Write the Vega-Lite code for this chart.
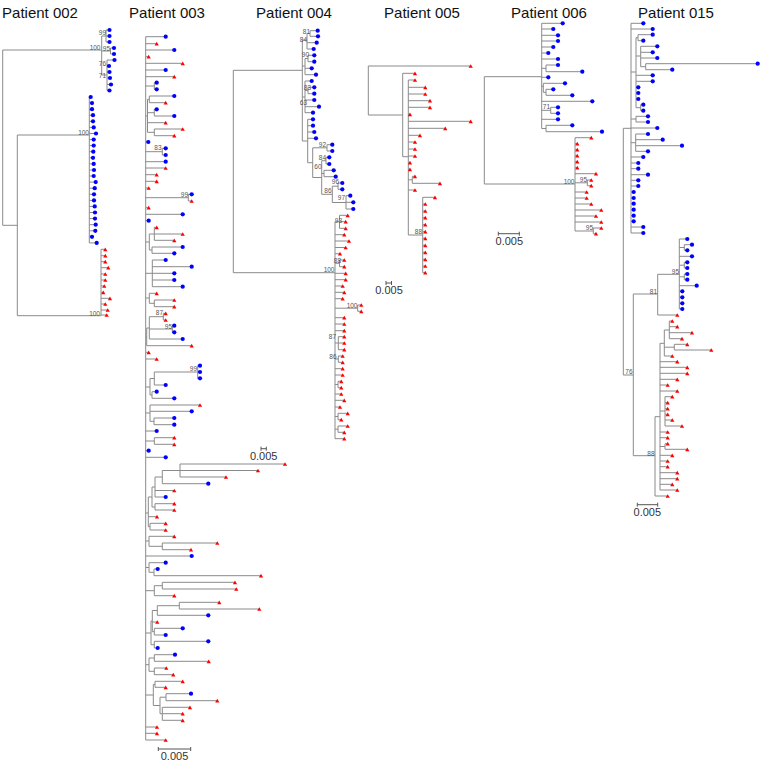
{
"$schema":"https://vega.github.io/schema/vega-lite/v6.json",
"width":764,"height":765,
"autosize":{"type":"fit","contains":"padding"},
"padding":0,
"config":{"view":{"stroke":null}},
"datasets":{
"v":[
{"x":2.7,"y":50,"y2":225.3},{"x":101.7,"y":36,"y2":75},{"x":106,"y":30,"y2":42},{"x":110.5,"y":48,"y2":54},{"x":107,"y":60,"y2":90.5},{"x":17.3,"y":135,"y2":315.7},{"x":89.3,"y":97,"y2":243},{"x":101,"y":249.3,"y2":315.7},
{"x":145.7,"y":36.7,"y2":740},{"x":154.3,"y":82.7,"y2":89.3},{"x":147.5,"y":99.3,"y2":132.3},{"x":149.3,"y":96,"y2":102.7},{"x":154.3,"y":109.3,"y2":116},{"x":154.3,"y":129,"y2":135.7},{"x":162.3,"y":148.3,"y2":155},{"x":188.3,"y":194.3,"y2":201},{"x":149.3,"y":234,"y2":250},{"x":154.3,"y":227.3,"y2":240.3},{"x":152,"y":247,"y2":253.3},{"x":152.3,"y":260,"y2":286.7},{"x":149.3,"y":293.3,"y2":303.3},{"x":154.3,"y":300,"y2":306.7},{"x":146.7,"y":328,"y2":345.7},{"x":149.3,"y":316.7,"y2":339},{"x":163.3,"y":313.3,"y2":320},{"x":172.3,"y":325.7,"y2":332.3},{"x":150,"y":378.5,"y2":395},{"x":154.3,"y":372,"y2":385},{"x":197.7,"y":365.7,"y2":378.3},{"x":152,"y":391.7,"y2":398.3},{"x":150,"y":405,"y2":421.3},{"x":154,"y":418,"y2":424.7},{"x":154.3,"y":437.7,"y2":444.3},{"x":148.3,"y":497,"y2":526.7},{"x":152,"y":487,"y2":507},{"x":155,"y":477,"y2":497},{"x":162.3,"y":470.5,"y2":483.7},{"x":180,"y":464,"y2":477},{"x":155,"y":503.7,"y2":510},{"x":150,"y":523.3,"y2":530},{"x":149,"y":536.3,"y2":546.3},{"x":162.3,"y":543,"y2":549.7},{"x":149,"y":562.7,"y2":572.3},{"x":154,"y":569,"y2":575.7},{"x":154.3,"y":585.7,"y2":595.7},{"x":162.3,"y":582.3,"y2":589},{"x":151,"y":621,"y2":644.7},{"x":152.3,"y":610.5,"y2":631.7},{"x":157.3,"y":605.7,"y2":615.3},{"x":179.3,"y":602.3,"y2":609},{"x":154.3,"y":628.3,"y2":635},{"x":154.3,"y":641.3,"y2":648},{"x":149,"y":658,"y2":671.3},{"x":154.3,"y":654.7,"y2":661.3},{"x":154.3,"y":668,"y2":674.7},{"x":153.3,"y":684.3,"y2":705.5},{"x":155,"y":681.3,"y2":687.3},{"x":160,"y":697.2,"y2":713.7},{"x":166,"y":693.7,"y2":700.7},{"x":162.3,"y":707.3,"y2":720.3},
{"x":233.3,"y":70.3,"y2":272.7},{"x":302.3,"y":40,"y2":141},{"x":307,"y":33.5,"y2":49},{"x":310,"y":30.7,"y2":36.3},{"x":305,"y":58.5,"y2":74.7},{"x":308,"y":55.3,"y2":61.7},{"x":305,"y":81,"y2":112.7},{"x":308,"y":87.3,"y2":93.7},{"x":307.7,"y":119.3,"y2":162.7},{"x":312.7,"y":147.8,"y2":177.5},{"x":327,"y":144.7,"y2":151},{"x":321.7,"y":160.7,"y2":194.3},{"x":326,"y":157.3,"y2":164},{"x":324,"y":170.3,"y2":176.7},{"x":332.3,"y":186.2,"y2":202.5},{"x":338,"y":183,"y2":189.3},{"x":346,"y":195.7,"y2":209},{"x":335,"y":221.7,"y2":438.7},{"x":339.5,"y":215.3,"y2":228.3},{"x":339.5,"y":260,"y2":266.7},{"x":357.7,"y":305,"y2":311.3},{"x":338.3,"y":336.7,"y2":349.7},{"x":338.3,"y":356,"y2":362.3},{"x":338,"y":381.3,"y2":387.7},{"x":338,"y":413.3,"y2":419.7},{"x":338,"y":426,"y2":432.3},
{"x":368.3,"y":66,"y2":115},{"x":402.7,"y":73.3,"y2":156.7},{"x":408.3,"y":80,"y2":235},{"x":412.3,"y":176.3,"y2":183.3},{"x":422.7,"y":197.3,"y2":272.7},
{"x":484.3,"y":76.7,"y2":184},{"x":541.7,"y":23.3,"y2":128.5},{"x":546,"y":65,"y2":71.7},{"x":543.3,"y":83.3,"y2":92.3},{"x":546,"y":89.3,"y2":95.3},{"x":550.7,"y":107.3,"y2":113.3},{"x":546,"y":125.3,"y2":131.7},{"x":575,"y":137.7,"y2":231},{"x":587.3,"y":180,"y2":185.7},{"x":593.3,"y":228,"y2":233.7},
{"x":623.3,"y":128.3,"y2":375},{"x":631,"y":23.3,"y2":233},{"x":636,"y":37.7,"y2":107.7},{"x":638,"y":34.7,"y2":40.7},{"x":640.7,"y":46.3,"y2":66.7},{"x":645.7,"y":63.7,"y2":69.7},{"x":640.7,"y":104.7,"y2":110.7},{"x":636,"y":116.3,"y2":122},{"x":635.7,"y":134,"y2":151.3},{"x":633.3,"y":294,"y2":455.7},{"x":657.7,"y":274.3,"y2":315},{"x":679.3,"y":239,"y2":309},{"x":684.3,"y":244.7,"y2":250.3},{"x":684.3,"y":262.3,"y2":268},{"x":684.3,"y":274,"y2":279.7},{"x":655,"y":416.7,"y2":496},{"x":660,"y":343.3,"y2":490},{"x":664.3,"y":330,"y2":356},{"x":669.3,"y":321,"y2":338.7},{"x":674.3,"y":344.3,"y2":350},{"x":665,"y":396.7,"y2":426},{"x":665,"y":443.7,"y2":449.3}
],
"h":[
{"x":2.7,"x2":101.7,"y":50},{"x":2.7,"x2":17.3,"y":225.3},{"x":101.7,"x2":106,"y":36},{"x":106,"x2":109.5,"y":30,"s":"b"},{"x":106,"x2":109.5,"y":36,"s":"b"},{"x":106,"x2":109.5,"y":42,"s":"b"},{"x":101.7,"x2":110.5,"y":51},{"x":110.5,"x2":114,"y":48,"s":"b"},{"x":110.5,"x2":114,"y":54,"s":"b"},{"x":101.7,"x2":107,"y":75},{"x":107,"x2":114.5,"y":60,"s":"b"},{"x":107,"x2":109,"y":66,"s":"b"},{"x":107,"x2":109.5,"y":72,"s":"b"},{"x":107,"x2":110,"y":78,"s":"b"},{"x":107,"x2":111,"y":84.5,"s":"b"},{"x":107,"x2":109.5,"y":90.5,"s":"b"},{"x":17.3,"x2":89.3,"y":135},{"x":17.3,"x2":101,"y":315.7},
{"x":89.3,"x2":90.7,"y":97,"s":"b"},{"x":89.3,"x2":92,"y":103.1,"s":"b"},{"x":89.3,"x2":92,"y":109.2,"s":"b"},{"x":89.3,"x2":93,"y":115.2,"s":"b"},{"x":89.3,"x2":93,"y":121.3,"s":"b"},{"x":89.3,"x2":93.7,"y":127.4,"s":"b"},{"x":89.3,"x2":96,"y":133.5,"s":"b"},{"x":89.3,"x2":93.7,"y":139.6,"s":"b"},{"x":89.3,"x2":93.7,"y":145.6,"s":"b"},{"x":89.3,"x2":93.3,"y":151.7,"s":"b"},{"x":89.3,"x2":93,"y":157.8,"s":"b"},{"x":89.3,"x2":93.7,"y":163.9,"s":"b"},{"x":89.3,"x2":94,"y":170,"s":"b"},{"x":89.3,"x2":93.7,"y":176,"s":"b"},{"x":89.3,"x2":95.7,"y":182.1,"s":"b"},{"x":89.3,"x2":94.7,"y":188.2,"s":"b"},{"x":89.3,"x2":94,"y":194.3,"s":"b"},{"x":89.3,"x2":94,"y":200.4,"s":"b"},{"x":89.3,"x2":94.7,"y":206.4,"s":"b"},{"x":89.3,"x2":95,"y":212.5,"s":"b"},{"x":89.3,"x2":95,"y":218.6,"s":"b"},{"x":89.3,"x2":95.7,"y":224.7,"s":"b"},{"x":89.3,"x2":95.3,"y":230.8,"s":"b"},{"x":89.3,"x2":92,"y":236.8,"s":"b"},{"x":89.3,"x2":96.7,"y":242.9,"s":"b"},
{"x":101,"x2":105.3,"y":249.3,"s":"r"},{"x":101,"x2":105.3,"y":255.7,"s":"r"},{"x":101,"x2":105.3,"y":261.7,"s":"r"},{"x":101,"x2":108.3,"y":267.7,"s":"r"},{"x":101,"x2":105.3,"y":274,"s":"r"},{"x":101,"x2":105.3,"y":280,"s":"r"},{"x":101,"x2":104.3,"y":286,"s":"r"},{"x":101,"x2":103.3,"y":292.3,"s":"r"},{"x":101,"x2":110,"y":298.3,"s":"r"},{"x":101,"x2":105.3,"y":304,"s":"r"},{"x":101,"x2":107.7,"y":310,"s":"r"},{"x":101,"x2":106.7,"y":315,"s":"r"},
{"x":145.7,"x2":165.7,"y":36.7,"s":"b"},{"x":145.7,"x2":156.7,"y":43.7,"s":"r"},{"x":145.7,"x2":174.3,"y":50,"s":"b"},{"x":145.7,"x2":148.7,"y":56.7,"s":"r"},{"x":145.7,"x2":182.7,"y":63.3,"s":"r"},{"x":145.7,"x2":165.7,"y":70,"s":"b"},{"x":145.7,"x2":174.3,"y":76.7,"s":"r"},{"x":145.7,"x2":148.3,"y":142,"s":"b"},{"x":145.7,"x2":165.7,"y":161.7,"s":"b"},{"x":145.7,"x2":165.7,"y":168,"s":"r"},{"x":145.7,"x2":156.7,"y":174.7,"s":"r"},{"x":145.7,"x2":156.7,"y":181.3,"s":"r"},{"x":145.7,"x2":148.7,"y":188,"s":"r"},{"x":145.7,"x2":148.7,"y":207.7,"s":"r"},{"x":145.7,"x2":182.7,"y":214.3,"s":"b"},{"x":145.7,"x2":148.7,"y":220.7,"s":"b"},{"x":145.7,"x2":148.7,"y":352.3,"s":"r"},{"x":145.7,"x2":156.7,"y":359,"s":"r"},{"x":145.7,"x2":156.7,"y":431,"s":"b"},{"x":145.7,"x2":148.7,"y":450.7,"s":"b"},{"x":145.7,"x2":165.7,"y":457.3,"s":"b"},{"x":145.7,"x2":191.7,"y":556,"s":"b"},{"x":145.7,"x2":157,"y":727,"s":"r"},{"x":145.7,"x2":157,"y":733.3,"s":"r"},{"x":145.7,"x2":165.7,"y":740,"s":"r"},
{"x":145.7,"x2":154.3,"y":86},{"x":154.3,"x2":156.7,"y":82.7,"s":"b"},{"x":154.3,"x2":156.7,"y":89.3,"s":"b"},
{"x":145.7,"x2":147.5,"y":116},{"x":147.5,"x2":149.3,"y":99.3},{"x":149.3,"x2":174.3,"y":96,"s":"b"},{"x":149.3,"x2":165.7,"y":102.7,"s":"r"},{"x":147.5,"x2":154.3,"y":112.7},{"x":154.3,"x2":156.7,"y":109.3,"s":"b"},{"x":154.3,"x2":174.3,"y":116,"s":"b"},{"x":147.5,"x2":165.7,"y":122.7,"s":"r"},{"x":147.5,"x2":154.3,"y":132.3},{"x":154.3,"x2":182.7,"y":129,"s":"r"},{"x":154.3,"x2":174.3,"y":135.7,"s":"r"},
{"x":145.7,"x2":162.3,"y":151.7},{"x":162.3,"x2":165.7,"y":148.3,"s":"b"},{"x":162.3,"x2":165.7,"y":155,"s":"b"},
{"x":145.7,"x2":188.3,"y":197.7},{"x":188.3,"x2":191.7,"y":194.3,"s":"b"},{"x":188.3,"x2":191.7,"y":201,"s":"r"},
{"x":145.7,"x2":149.3,"y":242},{"x":149.3,"x2":154.3,"y":234},{"x":154.3,"x2":156.7,"y":227.3,"s":"r"},{"x":154.3,"x2":182.7,"y":234,"s":"r"},{"x":154.3,"x2":174.3,"y":240.3,"s":"r"},{"x":149.3,"x2":152,"y":250},{"x":152,"x2":182.7,"y":247,"s":"b"},{"x":152,"x2":174.3,"y":253.3,"s":"b"},
{"x":145.7,"x2":152.3,"y":273.3},{"x":152.3,"x2":165.7,"y":260,"s":"b"},{"x":152.3,"x2":191.7,"y":266.7,"s":"b"},{"x":152.3,"x2":174.3,"y":273.3,"s":"b"},{"x":152.3,"x2":174.3,"y":280,"s":"b"},{"x":152.3,"x2":182.7,"y":286.7,"s":"b"},
{"x":145.7,"x2":149.3,"y":298},{"x":149.3,"x2":156.7,"y":293.3,"s":"r"},{"x":149.3,"x2":154.3,"y":303.3},{"x":154.3,"x2":174.3,"y":300,"s":"r"},{"x":154.3,"x2":174.3,"y":306.7,"s":"r"},
{"x":145.7,"x2":146.7,"y":337},{"x":146.7,"x2":191.7,"y":345.7,"s":"r"},{"x":146.7,"x2":149.3,"y":328},{"x":149.3,"x2":163.3,"y":316.7},{"x":163.3,"x2":165.7,"y":313.3,"s":"r"},{"x":163.3,"x2":165.7,"y":320,"s":"r"},{"x":149.3,"x2":172.3,"y":329},{"x":172.3,"x2":174.3,"y":325.7,"s":"b"},{"x":172.3,"x2":174.3,"y":332.3,"s":"b"},{"x":149.3,"x2":182.7,"y":339,"s":"b"},
{"x":145.7,"x2":150,"y":387},{"x":150,"x2":154.3,"y":378.5},{"x":154.3,"x2":197.7,"y":372},{"x":197.7,"x2":200,"y":365.7,"s":"b"},{"x":197.7,"x2":200,"y":372,"s":"b"},{"x":197.7,"x2":200,"y":378.3,"s":"b"},{"x":154.3,"x2":165.7,"y":385,"s":"b"},{"x":150,"x2":152,"y":395},{"x":152,"x2":156.7,"y":391.7,"s":"b"},{"x":152,"x2":174.3,"y":398.3,"s":"b"},
{"x":145.7,"x2":150,"y":413},{"x":150,"x2":200,"y":405,"s":"r"},{"x":150,"x2":191.7,"y":411.3,"s":"b"},{"x":150,"x2":154,"y":421.3},{"x":154,"x2":174.3,"y":418,"s":"b"},{"x":154,"x2":174.3,"y":424.7,"s":"b"},
{"x":145.7,"x2":154.3,"y":441},{"x":154.3,"x2":174.3,"y":437.7,"s":"r"},{"x":154.3,"x2":174.3,"y":444.3,"s":"r"},
{"x":145.7,"x2":148.3,"y":513},{"x":148.3,"x2":152,"y":497},{"x":152,"x2":155,"y":487},{"x":155,"x2":162.3,"y":477},{"x":162.3,"x2":180,"y":470.5},{"x":180,"x2":285,"y":464,"s":"r"},{"x":180,"x2":258,"y":470.5,"s":"r"},{"x":180,"x2":226,"y":477,"s":"r"},{"x":162.3,"x2":208.3,"y":483.7,"s":"b"},{"x":155,"x2":174.3,"y":490.5,"s":"r"},{"x":155,"x2":165.7,"y":497,"s":"b"},{"x":152,"x2":155,"y":507},{"x":155,"x2":174.3,"y":503.7,"s":"r"},{"x":155,"x2":174.3,"y":510,"s":"r"},{"x":148.3,"x2":157,"y":516.7,"s":"r"},{"x":148.3,"x2":150,"y":526.7},{"x":150,"x2":165.7,"y":523.3,"s":"r"},{"x":150,"x2":165.7,"y":530,"s":"r"},
{"x":145.7,"x2":149,"y":541},{"x":149,"x2":174.3,"y":536.3,"s":"r"},{"x":149,"x2":162.3,"y":546.3},{"x":162.3,"x2":217.3,"y":543,"s":"r"},{"x":162.3,"x2":191,"y":549.7,"s":"r"},
{"x":145.7,"x2":149,"y":567.5},{"x":149,"x2":165.7,"y":562.7,"s":"b"},{"x":149,"x2":154,"y":572.3},{"x":154,"x2":157.7,"y":569,"s":"b"},{"x":154,"x2":261,"y":575.7,"s":"r"},
{"x":145.7,"x2":154.3,"y":590.7},{"x":154.3,"x2":162.3,"y":585.7},{"x":162.3,"x2":235,"y":582.3,"s":"r"},{"x":162.3,"x2":236.3,"y":589,"s":"r"},{"x":154.3,"x2":174.3,"y":595.7,"s":"r"},
{"x":145.7,"x2":151,"y":633},{"x":151,"x2":152.3,"y":621},{"x":152.3,"x2":157.3,"y":610.5},{"x":157.3,"x2":179.3,"y":605.7},{"x":179.3,"x2":219.3,"y":602.3,"s":"r"},{"x":179.3,"x2":259.3,"y":609,"s":"r"},{"x":157.3,"x2":208.3,"y":615.3,"s":"b"},{"x":152.3,"x2":157.3,"y":622,"s":"r"},{"x":152.3,"x2":154.3,"y":631.7},{"x":154.3,"x2":182.7,"y":628.3,"s":"b"},{"x":154.3,"x2":165.7,"y":635,"s":"b"},{"x":151,"x2":154.3,"y":644.7},{"x":154.3,"x2":208.3,"y":641.3,"s":"b"},{"x":154.3,"x2":157.7,"y":648,"s":"b"},
{"x":145.7,"x2":149,"y":664.7},{"x":149,"x2":154.3,"y":658},{"x":154.3,"x2":175,"y":654.7,"s":"b"},{"x":154.3,"x2":208.7,"y":661.3,"s":"r"},{"x":149,"x2":154.3,"y":671.3},{"x":154.3,"x2":166.3,"y":668,"s":"r"},{"x":154.3,"x2":173.3,"y":674.7,"s":"r"},
{"x":145.7,"x2":153.3,"y":695},{"x":153.3,"x2":155,"y":684.3},{"x":155,"x2":182.7,"y":681.3,"s":"r"},{"x":155,"x2":165.7,"y":687.3,"s":"r"},{"x":153.3,"x2":160,"y":705.5},{"x":160,"x2":166,"y":697.2},{"x":166,"x2":191,"y":693.7,"s":"b"},{"x":166,"x2":217.3,"y":700.7,"s":"r"},{"x":160,"x2":162.3,"y":713.7},{"x":162.3,"x2":190,"y":707.3,"s":"r"},{"x":162.3,"x2":182.7,"y":713.7,"s":"r"},{"x":162.3,"x2":182.7,"y":720.3,"s":"r"},
{"x":233.3,"x2":302.3,"y":70.3},{"x":233.3,"x2":335,"y":272.7},
{"x":302.3,"x2":307,"y":40},{"x":307,"x2":310,"y":33.5},{"x":310,"x2":317.7,"y":30.7,"s":"b"},{"x":310,"x2":318,"y":36.3,"s":"b"},{"x":307,"x2":316.7,"y":42.7,"s":"b"},{"x":307,"x2":313.7,"y":49,"s":"b"},
{"x":302.3,"x2":305,"y":66},{"x":305,"x2":308,"y":58.5},{"x":308,"x2":314.3,"y":55.3,"s":"b"},{"x":308,"x2":314.3,"y":61.7,"s":"b"},{"x":305,"x2":311.7,"y":68.3,"s":"b"},{"x":305,"x2":316,"y":74.7,"s":"b"},
{"x":302.3,"x2":305,"y":97},{"x":305,"x2":311.7,"y":81,"s":"b"},{"x":305,"x2":308,"y":90.5},{"x":308,"x2":314.3,"y":87.3,"s":"b"},{"x":308,"x2":314.3,"y":93.7,"s":"b"},{"x":305,"x2":314.3,"y":100,"s":"b"},{"x":305,"x2":319,"y":106.7,"s":"b"},{"x":305,"x2":313,"y":112.7,"s":"b"},
{"x":302.3,"x2":307.7,"y":141},{"x":307.7,"x2":313,"y":119.3,"s":"b"},{"x":307.7,"x2":313,"y":125.7,"s":"b"},{"x":307.7,"x2":314.3,"y":132,"s":"b"},{"x":307.7,"x2":316,"y":138.3,"s":"b"},
{"x":307.7,"x2":312.7,"y":162.7},{"x":312.7,"x2":327,"y":147.8},{"x":327,"x2":332.3,"y":144.7,"s":"b"},{"x":327,"x2":332.3,"y":151,"s":"b"},
{"x":312.7,"x2":321.7,"y":177.5},{"x":321.7,"x2":326,"y":160.7},{"x":326,"x2":329.3,"y":157.3,"s":"b"},{"x":326,"x2":329.3,"y":164,"s":"b"},{"x":321.7,"x2":324,"y":173.5},{"x":324,"x2":333.7,"y":170.3,"s":"b"},{"x":324,"x2":335.7,"y":176.7,"s":"b"},
{"x":321.7,"x2":332.3,"y":194.3},{"x":332.3,"x2":338,"y":186.2},{"x":338,"x2":342.3,"y":183,"s":"b"},{"x":338,"x2":342.3,"y":189.3,"s":"b"},{"x":332.3,"x2":346,"y":202.5},{"x":346,"x2":350.3,"y":195.7,"s":"b"},{"x":346,"x2":353.3,"y":202.3,"s":"b"},{"x":346,"x2":353.3,"y":209,"s":"b"},
{"x":335,"x2":339.5,"y":221.7},{"x":339.5,"x2":347.7,"y":215.3,"s":"r"},{"x":339.5,"x2":345.7,"y":221.7,"s":"r"},{"x":339.5,"x2":345.7,"y":228.3,"s":"r"},
{"x":335,"x2":344.3,"y":234.7,"s":"r"},{"x":335,"x2":349,"y":241,"s":"r"},{"x":335,"x2":345.7,"y":247.5,"s":"r"},{"x":335,"x2":340,"y":253.7,"s":"r"},
{"x":335,"x2":339.5,"y":263.3},{"x":339.5,"x2":344.3,"y":260,"s":"r"},{"x":339.5,"x2":344.3,"y":266.7,"s":"r"},
{"x":335,"x2":345.7,"y":273.3,"s":"r"},{"x":335,"x2":345.7,"y":279.7,"s":"r"},{"x":335,"x2":342.7,"y":286,"s":"r"},{"x":335,"x2":344.3,"y":292.3,"s":"r"},{"x":335,"x2":342.7,"y":298.7,"s":"r"},
{"x":335,"x2":357.7,"y":308.2},{"x":357.7,"x2":361.3,"y":305,"s":"r"},{"x":357.7,"x2":361.3,"y":311.3,"s":"r"},
{"x":335,"x2":344.3,"y":317.7,"s":"r"},{"x":335,"x2":344.3,"y":324,"s":"r"},{"x":335,"x2":344.3,"y":330.7,"s":"r"},
{"x":335,"x2":338.3,"y":343},{"x":338.3,"x2":344.3,"y":336.7,"s":"r"},{"x":338.3,"x2":344.3,"y":343,"s":"r"},{"x":338.3,"x2":344.3,"y":349.7,"s":"r"},
{"x":335,"x2":338.3,"y":359},{"x":338.3,"x2":342.7,"y":356,"s":"r"},{"x":338.3,"x2":342.7,"y":362.3,"s":"r"},
{"x":335,"x2":342.7,"y":368.7,"s":"r"},{"x":335,"x2":342.7,"y":375,"s":"r"},
{"x":335,"x2":338,"y":384.5},{"x":338,"x2":341.3,"y":381.3,"s":"r"},{"x":338,"x2":341.3,"y":387.7,"s":"r"},
{"x":335,"x2":341.3,"y":394,"s":"r"},{"x":335,"x2":344.3,"y":400.3,"s":"r"},{"x":335,"x2":340,"y":407,"s":"r"},
{"x":335,"x2":338,"y":416.5},{"x":338,"x2":347.7,"y":413.3,"s":"r"},{"x":338,"x2":341.3,"y":419.7,"s":"r"},
{"x":335,"x2":338,"y":429.2},{"x":338,"x2":347.7,"y":426,"s":"r"},{"x":338,"x2":344.3,"y":432.3,"s":"r"},
{"x":335,"x2":344.3,"y":438.7,"s":"r"},
{"x":368.3,"x2":470.7,"y":66,"s":"r"},{"x":368.3,"x2":402.7,"y":115},{"x":402.7,"x2":415,"y":73.3,"s":"r"},{"x":402.7,"x2":408.3,"y":156.7},
{"x":408.3,"x2":415,"y":80,"s":"r"},{"x":408.3,"x2":425.3,"y":87.3,"s":"r"},{"x":408.3,"x2":425.3,"y":94,"s":"r"},{"x":408.3,"x2":430,"y":100.7,"s":"r"},{"x":408.3,"x2":430,"y":107.3,"s":"r"},{"x":408.3,"x2":410,"y":114.3,"s":"r"},{"x":408.3,"x2":470.7,"y":121.3,"s":"r"},{"x":408.3,"x2":445.3,"y":128.3,"s":"r"},{"x":408.3,"x2":420,"y":135.3,"s":"r"},{"x":408.3,"x2":415,"y":142,"s":"r"},{"x":408.3,"x2":415,"y":149,"s":"r"},{"x":408.3,"x2":415,"y":156,"s":"r"},{"x":408.3,"x2":410,"y":162.7,"s":"r"},{"x":408.3,"x2":410,"y":169.3,"s":"r"},{"x":408.3,"x2":415,"y":190,"s":"r"},
{"x":408.3,"x2":412.3,"y":179.8},{"x":412.3,"x2":415,"y":176.3,"s":"r"},{"x":412.3,"x2":440,"y":183.3,"s":"r"},
{"x":408.3,"x2":422.7,"y":235},{"x":422.7,"x2":435,"y":197.3,"s":"r"},{"x":422.7,"x2":425.3,"y":204,"s":"r"},{"x":422.7,"x2":425.3,"y":211,"s":"r"},{"x":422.7,"x2":425.3,"y":217.7,"s":"r"},{"x":422.7,"x2":425.3,"y":224.7,"s":"r"},{"x":422.7,"x2":425.3,"y":231.7,"s":"r"},{"x":422.7,"x2":425.3,"y":238.3,"s":"r"},{"x":422.7,"x2":425.3,"y":245.3,"s":"r"},{"x":422.7,"x2":425.3,"y":252.3,"s":"r"},{"x":422.7,"x2":425.3,"y":259.3,"s":"r"},{"x":422.7,"x2":425.3,"y":266,"s":"r"},{"x":422.7,"x2":425.3,"y":272.7,"s":"r"},
{"x":484.3,"x2":541.7,"y":76.7},{"x":484.3,"x2":575,"y":184},
{"x":541.7,"x2":562.7,"y":23.3,"s":"b"},{"x":541.7,"x2":553.3,"y":29,"s":"b"},{"x":541.7,"x2":558,"y":35.3,"s":"b"},{"x":541.7,"x2":558,"y":41,"s":"b"},{"x":541.7,"x2":553.3,"y":47,"s":"b"},{"x":541.7,"x2":548.3,"y":53,"s":"b"},{"x":541.7,"x2":558,"y":59,"s":"b"},{"x":541.7,"x2":548.3,"y":77.3,"s":"b"},{"x":541.7,"x2":592.3,"y":101.3,"s":"b"},{"x":541.7,"x2":558,"y":119.3,"s":"b"},
{"x":541.7,"x2":546,"y":68.3},{"x":546,"x2":558,"y":65,"s":"b"},{"x":546,"x2":582.3,"y":71.7,"s":"b"},
{"x":541.7,"x2":543.3,"y":86.3},{"x":543.3,"x2":565,"y":83.3,"s":"b"},{"x":543.3,"x2":546,"y":92.3},{"x":546,"x2":553.3,"y":89.3,"s":"b"},{"x":546,"x2":572.3,"y":95.3,"s":"b"},
{"x":541.7,"x2":550.7,"y":110.3},{"x":550.7,"x2":558,"y":107.3,"s":"b"},{"x":550.7,"x2":558,"y":113.3,"s":"b"},
{"x":541.7,"x2":546,"y":128.5},{"x":546,"x2":572.3,"y":125.3,"s":"b"},{"x":546,"x2":602,"y":131.7,"s":"b"},
{"x":575,"x2":591.3,"y":137.7,"s":"r"},{"x":575,"x2":577.3,"y":143.7,"s":"r"},{"x":575,"x2":577.3,"y":149.7,"s":"r"},{"x":575,"x2":577.3,"y":155.7,"s":"r"},{"x":575,"x2":577.3,"y":161.7,"s":"r"},{"x":575,"x2":577.3,"y":167.7,"s":"r"},{"x":575,"x2":596,"y":173.7,"s":"r"},{"x":575,"x2":586.7,"y":192,"s":"r"},{"x":575,"x2":586.7,"y":198,"s":"r"},{"x":575,"x2":591.3,"y":204,"s":"r"},{"x":575,"x2":601.3,"y":210,"s":"r"},{"x":575,"x2":596,"y":216,"s":"r"},{"x":575,"x2":601.3,"y":222,"s":"r"},
{"x":575,"x2":587.3,"y":182.8},{"x":587.3,"x2":591.3,"y":180,"s":"r"},{"x":587.3,"x2":591.3,"y":185.7,"s":"r"},
{"x":575,"x2":593.3,"y":231},{"x":593.3,"x2":601.3,"y":228,"s":"r"},{"x":593.3,"x2":596,"y":233.7,"s":"r"},
{"x":623.3,"x2":631,"y":128.3},{"x":623.3,"x2":633.3,"y":375},
{"x":631,"x2":643.3,"y":23.3,"s":"b"},{"x":631,"x2":652.7,"y":29,"s":"b"},{"x":631,"x2":657.3,"y":128,"s":"b"},{"x":631,"x2":643.3,"y":157,"s":"b"},{"x":631,"x2":638.3,"y":163,"s":"b"},{"x":631,"x2":638.3,"y":168.7,"s":"b"},{"x":631,"x2":648,"y":174.7,"s":"b"},{"x":631,"x2":638.3,"y":180.3,"s":"b"},{"x":631,"x2":638.3,"y":186,"s":"b"},{"x":631,"x2":633.7,"y":192,"s":"b"},{"x":631,"x2":633.7,"y":198,"s":"b"},{"x":631,"x2":633.7,"y":203.7,"s":"b"},{"x":631,"x2":633.7,"y":209.7,"s":"b"},{"x":631,"x2":633.7,"y":215.7,"s":"b"},{"x":631,"x2":633.7,"y":221.3,"s":"b"},{"x":631,"x2":643.3,"y":227,"s":"b"},{"x":631,"x2":643.3,"y":233,"s":"b"},
{"x":631,"x2":636,"y":72},{"x":636,"x2":638,"y":37.7},{"x":638,"x2":652.7,"y":34.7,"s":"b"},{"x":638,"x2":643.3,"y":40.7,"s":"b"},{"x":636,"x2":640.7,"y":56},{"x":640.7,"x2":657.3,"y":46.3,"s":"b"},{"x":640.7,"x2":652.7,"y":52.3,"s":"b"},{"x":640.7,"x2":657.3,"y":58,"s":"b"},{"x":640.7,"x2":645.7,"y":66.7},{"x":645.7,"x2":757.7,"y":63.7,"s":"b"},{"x":645.7,"x2":672.3,"y":69.7,"s":"b"},
{"x":636,"x2":652.7,"y":75.3,"s":"b"},{"x":636,"x2":652.7,"y":81.3,"s":"b"},{"x":636,"x2":638.3,"y":87.3,"s":"b"},{"x":636,"x2":638.3,"y":93,"s":"b"},{"x":636,"x2":638.3,"y":99,"s":"b"},
{"x":636,"x2":640.7,"y":107.7},{"x":640.7,"x2":643.3,"y":104.7,"s":"b"},{"x":640.7,"x2":643.3,"y":110.7,"s":"b"},
{"x":631,"x2":636,"y":119},{"x":636,"x2":648,"y":116.3,"s":"b"},{"x":636,"x2":648,"y":122,"s":"b"},
{"x":631,"x2":635.7,"y":142.7},{"x":635.7,"x2":648,"y":134,"s":"b"},{"x":635.7,"x2":662.7,"y":139.7,"s":"b"},{"x":635.7,"x2":682,"y":145.7,"s":"b"},{"x":635.7,"x2":648,"y":151.3,"s":"b"},
{"x":633.3,"x2":657.7,"y":294},{"x":657.7,"x2":679.3,"y":274.3},{"x":679.3,"x2":687.3,"y":239,"s":"b"},{"x":679.3,"x2":684.3,"y":247.5},{"x":684.3,"x2":692,"y":244.7,"s":"b"},{"x":684.3,"x2":687.3,"y":250.3,"s":"b"},{"x":679.3,"x2":692,"y":256.3,"s":"b"},{"x":679.3,"x2":684.3,"y":265.2},{"x":684.3,"x2":687.3,"y":262.3,"s":"b"},{"x":684.3,"x2":687.3,"y":268,"s":"b"},{"x":679.3,"x2":684.3,"y":276.8},{"x":684.3,"x2":687.3,"y":274,"s":"b"},{"x":684.3,"x2":687.3,"y":279.7,"s":"b"},{"x":679.3,"x2":696.7,"y":285.7,"s":"b"},{"x":679.3,"x2":682.3,"y":291.3,"s":"b"},{"x":679.3,"x2":682.3,"y":297.3,"s":"b"},{"x":679.3,"x2":682.3,"y":303.3,"s":"b"},{"x":679.3,"x2":682.3,"y":309,"s":"b"},{"x":657.7,"x2":677.3,"y":315,"s":"r"},
{"x":633.3,"x2":655,"y":455.7},{"x":655,"x2":667.7,"y":496,"s":"r"},{"x":655,"x2":660,"y":416.7},{"x":660,"x2":664.3,"y":343.3},{"x":664.3,"x2":669.3,"y":330},{"x":669.3,"x2":672.3,"y":321,"s":"r"},{"x":669.3,"x2":677.3,"y":326.7,"s":"r"},{"x":669.3,"x2":692,"y":332.7,"s":"r"},{"x":669.3,"x2":682,"y":338.7,"s":"r"},{"x":664.3,"x2":674.3,"y":347.2},{"x":674.3,"x2":687.3,"y":344.3,"s":"r"},{"x":674.3,"x2":711.3,"y":350,"s":"r"},{"x":664.3,"x2":672.3,"y":356,"s":"r"},
{"x":660,"x2":677.3,"y":361.7,"s":"r"},{"x":660,"x2":687.3,"y":367.3,"s":"r"},{"x":660,"x2":687.3,"y":373.3,"s":"r"},{"x":660,"x2":677.3,"y":379.3,"s":"r"},{"x":660,"x2":667.7,"y":385,"s":"r"},{"x":660,"x2":677.3,"y":391,"s":"r"},
{"x":660,"x2":665,"y":411},{"x":665,"x2":672.3,"y":396.7,"s":"r"},{"x":665,"x2":667.7,"y":402.7,"s":"r"},{"x":665,"x2":667.7,"y":408.7,"s":"r"},{"x":665,"x2":667.7,"y":414.3,"s":"r"},{"x":665,"x2":672.3,"y":420,"s":"r"},{"x":665,"x2":682,"y":426,"s":"r"},
{"x":660,"x2":667.7,"y":432,"s":"r"},{"x":660,"x2":667.7,"y":437.7,"s":"r"},
{"x":660,"x2":665,"y":446.5},{"x":665,"x2":667.7,"y":443.7,"s":"r"},{"x":665,"x2":687.3,"y":449.3,"s":"r"},
{"x":660,"x2":672.3,"y":455.3,"s":"r"},{"x":660,"x2":667.7,"y":461,"s":"r"},{"x":660,"x2":667.7,"y":466.7,"s":"r"},{"x":660,"x2":677.3,"y":472.7,"s":"r"},{"x":660,"x2":677.3,"y":478.7,"s":"r"},{"x":660,"x2":672.3,"y":484.3,"s":"r"},{"x":660,"x2":677.3,"y":490,"s":"r"}
],
"lab":[
{"x":100.5,"y":47.5,"t":"100"},{"x":106,"y":32.5,"t":"99"},{"x":110,"y":48.5,"t":"95"},{"x":106,"y":63.5,"t":"76"},{"x":106,"y":75.5,"t":"71"},{"x":89,"y":133,"t":"100"},{"x":100,"y":313.5,"t":"100"},
{"x":161.5,"y":148,"t":"83"},{"x":188,"y":195,"t":"99"},{"x":163,"y":312.5,"t":"87"},{"x":172,"y":326.5,"t":"95"},{"x":197,"y":369,"t":"99"},
{"x":310,"y":32,"t":"81"},{"x":307,"y":39.5,"t":"84"},{"x":309,"y":55,"t":"90"},{"x":311,"y":88,"t":"83"},{"x":307,"y":103,"t":"63"},{"x":326,"y":144.5,"t":"92"},{"x":326,"y":157.5,"t":"84"},{"x":321.5,"y":167,"t":"60"},{"x":331.5,"y":190.5,"t":"86"},{"x":339,"y":182,"t":"96"},{"x":345,"y":198,"t":"97"},{"x":342,"y":221,"t":"93"},{"x":341,"y":260.5,"t":"88"},{"x":357.5,"y":305.5,"t":"100"},{"x":336,"y":337,"t":"87"},{"x":336.5,"y":356.5,"t":"86"},{"x":334.5,"y":270,"t":"100"},
{"x":422,"y":232,"t":"88"},
{"x":550,"y":107,"t":"71"},{"x":587,"y":180,"t":"95"},{"x":593,"y":228,"t":"95"},{"x":574.5,"y":182,"t":"100"},
{"x":632.5,"y":372,"t":"76"},{"x":657,"y":291.5,"t":"81"},{"x":679,"y":271.5,"t":"95"},{"x":654.5,"y":453.5,"t":"88"}
],
"bar":[
{"x":158.3,"x2":190.7,"y":749},{"x":261,"x2":266.3,"y":448.7},{"x":386,"x2":391.5,"y":283},{"x":498.3,"x2":519.3,"y":233.7},{"x":637.3,"x2":657.7,"y":504.7}
],
"tk":[
{"x":158.3,"y":747,"y2":751},{"x":190.7,"y":747,"y2":751},{"x":261,"y":446.7,"y2":450.7},{"x":266.3,"y":446.7,"y2":450.7},{"x":386,"y":281,"y2":285},{"x":391.5,"y":281,"y2":285},{"x":498.3,"y":231.7,"y2":235.7},{"x":519.3,"y":231.7,"y2":235.7},{"x":637.3,"y":502.7,"y2":506.7},{"x":657.7,"y":502.7,"y2":506.7}
],
"bt":[
{"x":174.5,"y":757,"t":"0.005"},{"x":263.7,"y":456.5,"t":"0.005"},{"x":389,"y":291,"t":"0.005"},{"x":509.3,"y":242,"t":"0.005"},{"x":647.3,"y":512.5,"t":"0.005"}
],
"ti":[
{"x":40,"y":13,"t":"Patient 002"},{"x":167,"y":13,"t":"Patient 003"},{"x":294,"y":13,"t":"Patient 004"},{"x":422,"y":13,"t":"Patient 005"},{"x":549,"y":13,"t":"Patient 006"},{"x":676,"y":13,"t":"Patient 015"}
]
},
"layer":[
{"data":{"name":"v"},"mark":{"type":"rule","color":"#8a8a8a","strokeWidth":1},
 "encoding":{"x":{"field":"x","type":"quantitative","scale":{"domain":[0,764],"nice":false,"zero":false},"axis":null},
 "y":{"field":"y","type":"quantitative","scale":{"domain":[0,765],"nice":false,"zero":false,"reverse":true},"axis":null},
 "y2":{"field":"y2"}}},
{"data":{"name":"h"},"mark":{"type":"rule","color":"#8a8a8a","strokeWidth":1},
 "encoding":{"x":{"field":"x","type":"quantitative","scale":{"domain":[0,764],"nice":false,"zero":false},"axis":null},
 "x2":{"field":"x2"},
 "y":{"field":"y","type":"quantitative","scale":{"domain":[0,765],"nice":false,"zero":false,"reverse":true},"axis":null}}},
{"data":{"name":"bar"},"mark":{"type":"rule","color":"#555555","strokeWidth":1},
 "encoding":{"x":{"field":"x","type":"quantitative","scale":{"domain":[0,764],"nice":false,"zero":false},"axis":null},
 "x2":{"field":"x2"},
 "y":{"field":"y","type":"quantitative","scale":{"domain":[0,765],"nice":false,"zero":false,"reverse":true},"axis":null}}},
{"data":{"name":"tk"},"mark":{"type":"rule","color":"#555555","strokeWidth":1},
 "encoding":{"x":{"field":"x","type":"quantitative","scale":{"domain":[0,764],"nice":false,"zero":false},"axis":null},
 "y":{"field":"y","type":"quantitative","scale":{"domain":[0,765],"nice":false,"zero":false,"reverse":true},"axis":null},
 "y2":{"field":"y2"}}},
{"data":{"name":"h"},"transform":[{"filter":"datum.s==='b'"}],"mark":{"type":"point","shape":"circle","filled":true,"color":"#0000ff","opacity":1,"size":18},
 "encoding":{"x":{"field":"x2","type":"quantitative","scale":{"domain":[0,764],"nice":false,"zero":false},"axis":null},
 "y":{"field":"y","type":"quantitative","scale":{"domain":[0,765],"nice":false,"zero":false,"reverse":true},"axis":null}}},
{"data":{"name":"h"},"transform":[{"filter":"datum.s==='r'"}],"mark":{"type":"point","shape":"triangle-up","filled":true,"color":"#ff0000","opacity":1,"size":18},
 "encoding":{"x":{"field":"x2","type":"quantitative","scale":{"domain":[0,764],"nice":false,"zero":false},"axis":null},
 "y":{"field":"y","type":"quantitative","scale":{"domain":[0,765],"nice":false,"zero":false,"reverse":true},"axis":null}}},
{"data":{"name":"lab"},"mark":{"type":"text","align":"right","baseline":"middle","fontSize":6.5,"font":"Liberation Sans","color":"#555555"},
 "encoding":{"x":{"field":"x","type":"quantitative","scale":{"domain":[0,764],"nice":false,"zero":false},"axis":null},
 "y":{"field":"y","type":"quantitative","scale":{"domain":[0,765],"nice":false,"zero":false,"reverse":true},"axis":null},
 "text":{"field":"t"}}},
{"data":{"name":"bt"},"mark":{"type":"text","align":"center","baseline":"middle","fontSize":11,"font":"Liberation Sans","color":"#333333"},
 "encoding":{"x":{"field":"x","type":"quantitative","scale":{"domain":[0,764],"nice":false,"zero":false},"axis":null},
 "y":{"field":"y","type":"quantitative","scale":{"domain":[0,765],"nice":false,"zero":false,"reverse":true},"axis":null},
 "text":{"field":"t"}}},
{"data":{"name":"ti"},"mark":{"type":"text","align":"center","baseline":"middle","fontSize":15,"font":"Liberation Sans","color":"#111111"},
 "encoding":{"x":{"field":"x","type":"quantitative","scale":{"domain":[0,764],"nice":false,"zero":false},"axis":null},
 "y":{"field":"y","type":"quantitative","scale":{"domain":[0,765],"nice":false,"zero":false,"reverse":true},"axis":null},
 "text":{"field":"t"}}}
]
}
